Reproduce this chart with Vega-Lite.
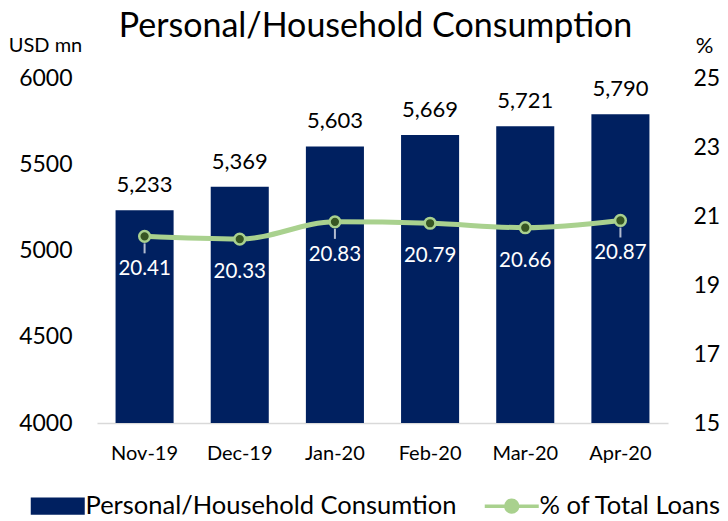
{
  "$schema": "https://vega.github.io/schema/vega-lite/v6.json",
  "width": 571,
  "height": 345,
  "autosize": {"type": "none"},
  "padding": {"left": 97, "top": 78, "right": 60, "bottom": 98},
  "background": "white",
  "config": {
    "font": "Lato",
    "view": {"stroke": null},
    "axis": {"grid": false, "labelColor": "black", "titleColor": "black"}
  },
  "title": {
    "text": "Personal/Household Consumption",
    "fontSize": 34,
    "fontWeight": "normal",
    "color": "black",
    "anchor": "middle",
    "frame": "group",
    "dx": -7,
    "dy": 10,
    "offset": 0
  },
  "data": {
    "values": [
      {"month": "Nov-19", "value": 5233, "pct": 20.41},
      {"month": "Dec-19", "value": 5369, "pct": 20.33},
      {"month": "Jan-20", "value": 5603, "pct": 20.83},
      {"month": "Feb-20", "value": 5669, "pct": 20.79},
      {"month": "Mar-20", "value": 5721, "pct": 20.66},
      {"month": "Apr-20", "value": 5790, "pct": 20.87}
    ]
  },
  "encoding": {
    "x": {
      "field": "month",
      "type": "ordinal",
      "sort": null,
      "scale": {"paddingInner": 0.39, "paddingOuter": 0.195},
      "axis": {
        "title": null,
        "labelAngle": 0,
        "labelFontSize": 20,
        "labelPadding": 20,
        "domain": true,
        "domainColor": "#D9D9D9",
        "domainWidth": 1.5,
        "ticks": false
      }
    }
  },
  "layer": [
    {
      "encoding": {
        "y": {
          "field": "value",
          "type": "quantitative",
          "scale": {"domain": [4000, 6000], "zero": false, "nice": false},
          "axis": {
            "values": [4000, 4500, 5000, 5500, 6000],
            "format": "d",
            "title": "USD mn",
            "titleAngle": 0,
            "titleX": -52,
            "titleY": -33,
            "titleAlign": "center",
            "titleBaseline": "middle",
            "titleFontSize": 20,
            "titleFontWeight": "normal",
            "labelFontSize": 23,
            "labelPadding": 25,
            "domain": false,
            "ticks": false
          }
        }
      },
      "layer": [
        {
          "mark": {"type": "bar"},
          "encoding": {
            "y2": {"datum": 4000},
            "color": {
              "datum": "Personal/Household Consumtion",
              "scale": {
                "domain": ["Personal/Household Consumtion", "% of Total Loans"],
                "range": ["#002060", "#A9D18E"]
              },
              "legend": {
                "orient": "none",
                "legendX": -52,
                "legendY": 415,
                "direction": "horizontal",
                "title": null,
                "labelFontSize": 25.5,
                "labelColor": "black",
                "labelLimit": 0,
                "labelOffset": 15,
                "columnPadding": 20,
                "symbolSize": 2916,
                "encode": {
                  "symbols": {
                    "update": {
                      "shape": {"signal": "datum.value === '% of Total Loans' ? 'M-1,0L1,0M0.22,0A0.22,0.22 0 1,1 -0.22,0A0.22,0.22 0 1,1 0.22,0Z' : 'M-1,-0.32L1,-0.32L1,0.32L-1,0.32Z'"},
                      "fill": {"signal": "datum.value === '% of Total Loans' ? '#375623' : '#002060'"},
                      "stroke": {"signal": "datum.value === '% of Total Loans' ? '#A9D18E' : 'transparent'"},
                      "strokeWidth": {"signal": "datum.value === '% of Total Loans' ? 3.5 : 0"},
                      "opacity": {"value": 1},
                      "fillOpacity": {"value": 1},
                      "strokeOpacity": {"value": 1}
                    }
                  }
                }
              }
            }
          }
        },
        {
          "mark": {"type": "text", "baseline": "alphabetic", "dy": -18, "fontSize": 22, "color": "black"},
          "encoding": {"text": {"field": "value", "type": "quantitative", "format": ","}}
        }
      ]
    },
    {
      "encoding": {
        "y": {
          "field": "pct",
          "type": "quantitative",
          "scale": {"domain": [15, 25], "zero": false, "nice": false},
          "axis": {
            "orient": "right",
            "values": [15, 17, 19, 21, 23, 25],
            "title": "%",
            "titleAngle": 0,
            "titleX": 36,
            "titleY": -33,
            "titleAlign": "center",
            "titleBaseline": "middle",
            "titleFontSize": 22,
            "titleFontWeight": "normal",
            "labelFontSize": 23,
            "labelPadding": 25,
            "domain": false,
            "ticks": false
          }
        }
      },
      "layer": [
        {
          "mark": {"type": "line", "strokeWidth": 5, "interpolate": "monotone"},
          "encoding": {"color": {"datum": "% of Total Loans"}}
        },
        {
          "transform": [{"filter": "datum.pct == 20.41 || datum.pct == 20.83 || datum.pct == 20.87"}],
          "mark": {"type": "tick", "orient": "vertical", "size": 10, "thickness": 2, "yOffset": 12, "color": "white"}
        },
        {
          "mark": {"type": "point", "filled": true, "fill": "#375623", "stroke": "#A9D18E", "strokeWidth": 2.5, "size": 115, "opacity": 1}
        },
        {
          "mark": {"type": "text", "baseline": "middle", "dy": 33, "fontSize": 20.5, "color": "white"},
          "encoding": {"text": {"field": "pct", "type": "quantitative", "format": ".2f"}}
        }
      ]
    }
  ],
  "resolve": {"scale": {"y": "independent"}}
}
